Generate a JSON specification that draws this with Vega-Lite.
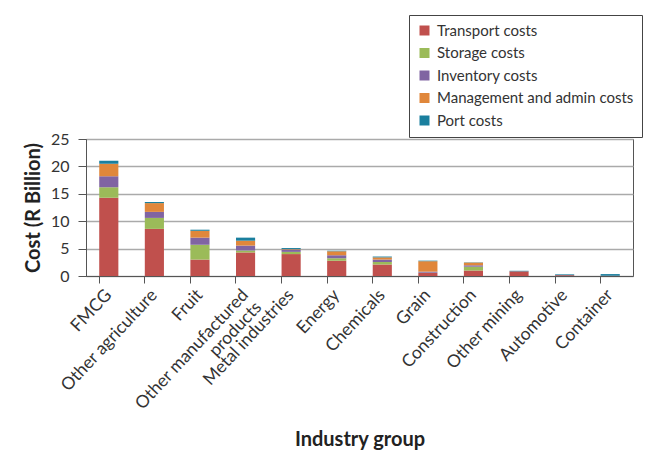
{
  "$schema": "https://vega.github.io/schema/vega-lite/v6.json",
  "autosize": {"type": "none"},
  "padding": {"left": 86, "top": 139, "right": 13, "bottom": 185},
  "width": 547,
  "height": 137,
  "background": "white",
  "config": {
    "font": "Lato",
    "view": {"stroke": "#555555", "strokeWidth": 1}
  },
  "data": {
    "values": [
      {"industry": "FMCG", "cost": "Transport costs", "value": 14.3},
      {"industry": "FMCG", "cost": "Storage costs", "value": 1.9},
      {"industry": "FMCG", "cost": "Inventory costs", "value": 2.0},
      {"industry": "FMCG", "cost": "Management and admin costs", "value": 2.3},
      {"industry": "FMCG", "cost": "Port costs", "value": 0.55},
      {"industry": "Other agriculture", "cost": "Transport costs", "value": 8.6},
      {"industry": "Other agriculture", "cost": "Storage costs", "value": 2.0},
      {"industry": "Other agriculture", "cost": "Inventory costs", "value": 1.1},
      {"industry": "Other agriculture", "cost": "Management and admin costs", "value": 1.6},
      {"industry": "Other agriculture", "cost": "Port costs", "value": 0.2},
      {"industry": "Fruit", "cost": "Transport costs", "value": 3.0},
      {"industry": "Fruit", "cost": "Storage costs", "value": 2.7},
      {"industry": "Fruit", "cost": "Inventory costs", "value": 1.3},
      {"industry": "Fruit", "cost": "Management and admin costs", "value": 1.25},
      {"industry": "Fruit", "cost": "Port costs", "value": 0.2},
      {"industry": "Other manufactured products", "cost": "Transport costs", "value": 4.3},
      {"industry": "Other manufactured products", "cost": "Storage costs", "value": 0.35},
      {"industry": "Other manufactured products", "cost": "Inventory costs", "value": 0.9},
      {"industry": "Other manufactured products", "cost": "Management and admin costs", "value": 0.9},
      {"industry": "Other manufactured products", "cost": "Port costs", "value": 0.55},
      {"industry": "Metal industries", "cost": "Transport costs", "value": 4.0},
      {"industry": "Metal industries", "cost": "Storage costs", "value": 0.4},
      {"industry": "Metal industries", "cost": "Inventory costs", "value": 0.4},
      {"industry": "Metal industries", "cost": "Management and admin costs", "value": 0.1},
      {"industry": "Metal industries", "cost": "Port costs", "value": 0.2},
      {"industry": "Energy", "cost": "Transport costs", "value": 2.8},
      {"industry": "Energy", "cost": "Storage costs", "value": 0.45},
      {"industry": "Energy", "cost": "Inventory costs", "value": 0.55},
      {"industry": "Energy", "cost": "Management and admin costs", "value": 0.7},
      {"industry": "Energy", "cost": "Port costs", "value": 0.1},
      {"industry": "Chemicals", "cost": "Transport costs", "value": 2.1},
      {"industry": "Chemicals", "cost": "Storage costs", "value": 0.45},
      {"industry": "Chemicals", "cost": "Inventory costs", "value": 0.45},
      {"industry": "Chemicals", "cost": "Management and admin costs", "value": 0.4},
      {"industry": "Chemicals", "cost": "Port costs", "value": 0.15},
      {"industry": "Grain", "cost": "Transport costs", "value": 0.55},
      {"industry": "Grain", "cost": "Storage costs", "value": 0.05},
      {"industry": "Grain", "cost": "Inventory costs", "value": 0.2},
      {"industry": "Grain", "cost": "Management and admin costs", "value": 1.9},
      {"industry": "Grain", "cost": "Port costs", "value": 0.1},
      {"industry": "Construction", "cost": "Transport costs", "value": 1.0},
      {"industry": "Construction", "cost": "Storage costs", "value": 0.7},
      {"industry": "Construction", "cost": "Inventory costs", "value": 0.25},
      {"industry": "Construction", "cost": "Management and admin costs", "value": 0.5},
      {"industry": "Construction", "cost": "Port costs", "value": 0.05},
      {"industry": "Other mining", "cost": "Transport costs", "value": 0.85},
      {"industry": "Other mining", "cost": "Storage costs", "value": 0.0},
      {"industry": "Other mining", "cost": "Inventory costs", "value": 0.0},
      {"industry": "Other mining", "cost": "Management and admin costs", "value": 0.0},
      {"industry": "Other mining", "cost": "Port costs", "value": 0.1},
      {"industry": "Automotive", "cost": "Transport costs", "value": 0.15},
      {"industry": "Automotive", "cost": "Storage costs", "value": 0.0},
      {"industry": "Automotive", "cost": "Inventory costs", "value": 0.0},
      {"industry": "Automotive", "cost": "Management and admin costs", "value": 0.0},
      {"industry": "Automotive", "cost": "Port costs", "value": 0.15},
      {"industry": "Container", "cost": "Transport costs", "value": 0.05},
      {"industry": "Container", "cost": "Storage costs", "value": 0.0},
      {"industry": "Container", "cost": "Inventory costs", "value": 0.0},
      {"industry": "Container", "cost": "Management and admin costs", "value": 0.0},
      {"industry": "Container", "cost": "Port costs", "value": 0.3}
    ]
  },
  "transform": [
    {"calculate": "indexof(['Transport costs', 'Storage costs', 'Inventory costs', 'Management and admin costs', 'Port costs'], datum.cost)", "as": "stackOrder"}
  ],
  "mark": {"type": "bar"},
  "encoding": {
    "x": {
      "field": "industry",
      "type": "nominal",
      "sort": null,
      "scale": {"paddingInner": 0.58, "paddingOuter": 0.29},
      "axis": {
        "title": "Industry group",
        "titleFontSize": 20,
        "titleFontWeight": "bold",
        "titleColor": "#222222",
        "titleX": 273.5,
        "titleY": 163,
        "titleBaseline": "middle",
        "labelAngle": -47,
        "labelAlign": "right",
        "labelBaseline": "middle",
        "labelFontSize": 17.5,
        "labelColor": "#333333",
        "labelPadding": 9,
        "labelLimit": 300,
        "labelExpr": "datum.value == 'Other manufactured products' ? ['Other manufactured', 'products'] : datum.value",
        "labelLineHeight": 18,
        "bandPosition": 0,
        "tickSize": 7,
        "tickColor": "#555555",
        "domainColor": "#555555",
        "grid": false
      }
    },
    "y": {
      "field": "value",
      "type": "quantitative",
      "aggregate": "sum",
      "stack": "zero",
      "scale": {"domain": [0, 25], "nice": false},
      "axis": {
        "title": "Cost (R Billion)",
        "titleFontSize": 20,
        "titleFontWeight": "bold",
        "titleColor": "#222222",
        "titleX": -53,
        "titleY": 68.5,
        "titleAngle": -90,
        "titleAlign": "center",
        "titleBaseline": "middle",
        "values": [0, 5, 10, 15, 20, 25],
        "labelFontSize": 16,
        "labelColor": "#333333",
        "labelPadding": 9,
        "tickSize": 8,
        "tickColor": "#555555",
        "domainColor": "#555555",
        "grid": true,
        "gridColor": "#aaaaaa",
        "gridWidth": 1.3
      }
    },
    "color": {
      "field": "cost",
      "type": "nominal",
      "sort": ["Transport costs", "Storage costs", "Inventory costs", "Management and admin costs", "Port costs"],
      "scale": {
        "domain": ["Transport costs", "Storage costs", "Inventory costs", "Management and admin costs", "Port costs"],
        "range": ["#c0504d", "#9bbb59", "#8064a2", "#e0873b", "#1a7f9e"]
      },
      "legend": {
        "title": null,
        "orient": "none",
        "legendX": 323,
        "legendY": -124,
        "symbolType": "square",
        "symbolSize": 100,
        "symbolStrokeWidth": 0,
        "labelFontSize": 15,
        "labelColor": "#333333",
        "labelOffset": 5,
        "labelLimit": 300,
        "rowPadding": 6.5,
        "padding": 8,
        "strokeColor": "#444444",
        "fillColor": "white"
      }
    },
    "order": {"field": "stackOrder", "type": "quantitative", "sort": "ascending"}
  }
}
